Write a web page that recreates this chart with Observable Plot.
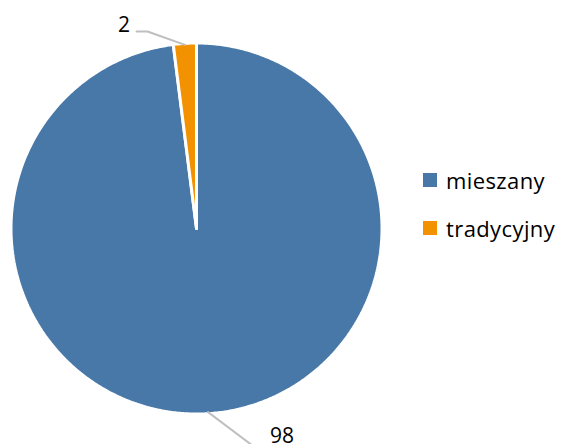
<!DOCTYPE html>
<html><head><meta charset="utf-8">
<script src="https://cdn.jsdelivr.net/npm/d3@7"></script>
<script src="https://cdn.jsdelivr.net/npm/@observablehq/plot@0.6"></script>
<style>
body{margin:0;background:#fff;font-family:"Open Sans",sans-serif;}
#wrap{position:relative;width:561px;height:444px;overflow:hidden;}
#legend{position:absolute;left:423px;top:167px;font-size:22px;letter-spacing:0.4px;color:#000;}
.item{display:flex;align-items:center;height:26px;margin-bottom:22px;}
.sw{width:14px;height:14px;margin-right:9px;}
</style></head>
<body><div id="wrap"><div id="chart"></div><div id="legend"></div></div>
<script>
const categories = ["mieszany", "tradycyjny"];
const values = [98, 2];
const colors = ["#4878a8", "#f39200"];

const W = 561, H = 444, CX = 196, CY = 228, R = 185.5;
const total = d3.sum(values);
// slices start at 12 o'clock, clockwise
let acc = 0;
const slices = categories.map((c, i) => {
  const a0 = acc / total * 2 * Math.PI;
  acc += values[i];
  const a1 = acc / total * 2 * Math.PI;
  return {cat: c, value: values[i], a0, a1, mid: (a0 + a1) / 2};
});
const poly = [];
for (const s of slices) {
  poly.push({cat: s.cat, x: 0, y: 0});
  const n = Math.max(4, Math.ceil((s.a1 - s.a0) / (Math.PI / 360)));
  for (let k = 0; k <= n; k++) {
    const a = s.a0 + (s.a1 - s.a0) * k / n;
    poly.push({cat: s.cat, x: Math.sin(a), y: Math.cos(a)});
  }
  poly.push({cat: s.cat, x: 0, y: 0});
}
// leader layout (pixel offsets from the slice edge)
const layout = {
  "tradycyjny": {elbow: [-37.4, -13.4], end: [-48.4, -13.4], label: [-60.9, -19.9]},
  "mieszany": {elbow: [48.4, 36.4], end: [56.4, 36.4], label: [73.9, 23.9]}
};
const rEdge = 184 / R;
const leaders = [], labels = [];
for (const s of slices) {
  const ex = Math.sin(s.mid) * rEdge, ey = Math.cos(s.mid) * rEdge;
  const L = layout[s.cat];
  const p = ([dx, dy]) => ({x: ex + dx / R, y: ey - dy / R});
  leaders.push({cat: s.cat, x: ex, y: ey}, {cat: s.cat, ...p(L.elbow)}, {cat: s.cat, ...p(L.end)});
  labels.push({text: String(s.value), ...p(L.label)});
}

const chart = Plot.plot({
  width: W, height: H,
  margin: 0,
  x: {domain: [-1, 1], range: [CX - R, CX + R], axis: null},
  y: {domain: [-1, 1], range: [CY + R, CY - R], axis: null},
  color: {domain: categories, range: colors},
  style: {fontFamily: "'Open Sans', sans-serif", background: "white"},
  marks: [
    Plot.line(poly, {x: "x", y: "y", z: "cat", fill: "cat", stroke: "white", strokeWidth: 3, strokeLinejoin: "miter", curve: "linear"}),
    Plot.line(leaders, {x: "x", y: "y", z: "cat", stroke: "#bfbfbf", strokeWidth: 2}),
    Plot.text(labels, {x: "x", y: "y", text: "text", fontSize: 21, fill: "black", textAnchor: "middle", lineAnchor: "middle"})
  ]
});
document.getElementById("chart").appendChild(chart);

const lg = document.getElementById("legend");
categories.forEach((c, i) => {
  const d = document.createElement("div");
  d.className = "item";
  d.innerHTML = `<div class="sw" style="background:${colors[i]}"></div><span>${c}</span>`;
  lg.appendChild(d);
});
</script></body></html>
